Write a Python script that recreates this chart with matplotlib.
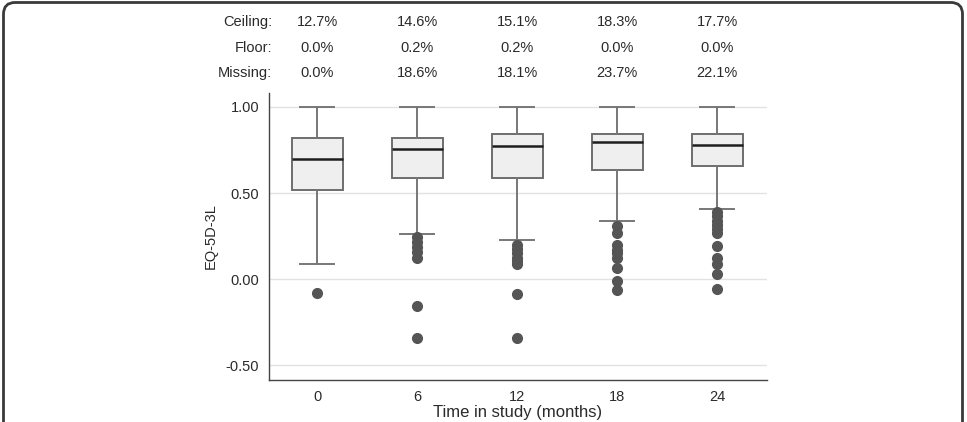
import matplotlib
matplotlib.use("Agg")
import matplotlib.pyplot as plt
from matplotlib.patches import FancyBboxPatch
from matplotlib.transforms import blended_transform_factory

plt.rcParams['font.family'] = ['Liberation Sans', 'DejaVu Sans']

# ---- data ----
categories = ["0", "6", "12", "18", "24"]
whislo = [0.087, 0.264, 0.225, 0.337, 0.409]
q1 = [0.517, 0.589, 0.589, 0.634, 0.659]
med = [0.698, 0.754, 0.771, 0.797, 0.779]
q3 = [0.822, 0.822, 0.843, 0.843, 0.843]
whishi = [1.00, 1.00, 1.00, 1.00, 1.00]
fliers = [
    [-0.083],
    [0.246, 0.217, 0.188, 0.155, 0.120, -0.155, -0.341],
    [0.200, 0.175, 0.150, 0.125, 0.105, 0.088, -0.089, -0.341],
    [0.308, 0.266, 0.198, 0.169, 0.150, 0.120, 0.062, -0.010, -0.066],
    [0.391, 0.366, 0.339, 0.314, 0.289, 0.266, 0.194, 0.124, 0.087, 0.029, -0.060],
]
ceiling = ["12.7%", "14.6%", "15.1%", "18.3%", "17.7%"]
floor_ = ["0.0%", "0.2%", "0.2%", "0.0%", "0.0%"]
missing = ["0.0%", "18.6%", "18.1%", "23.7%", "22.1%"]
yticks = [1.0, 0.5, 0.0, -0.5]

fig = plt.figure(figsize=(9.67, 4.22), dpi=100)
ax = fig.add_axes([0.2782, 0.0995, 0.515, 0.680])

stats = []
for i in range(len(categories)):
    stats.append(dict(whislo=whislo[i], q1=q1[i], med=med[i], q3=q3[i],
                      whishi=whishi[i], fliers=fliers[i], label=categories[i]))

pos = list(range(len(categories)))
ax.bxp(stats, positions=pos, widths=0.51, patch_artist=True,
       boxprops=dict(facecolor='#efefef', edgecolor='#6e6e6e', linewidth=1.4),
       whiskerprops=dict(color='#777777', linewidth=1.4),
       capprops=dict(color='#777777', linewidth=1.4),
       medianprops=dict(color='#1e1e1e', linewidth=1.8),
       flierprops=dict(marker='o', markerfacecolor='#555555', markeredgecolor='#555555',
                       markersize=7),
       capwidths=0.34, zorder=3)

ax.set_xlim(-0.48, 4.5)
ax.set_ylim(-0.587, 1.081)
ax.set_yticks(yticks)
ax.set_yticklabels([f"{v:.2f}" for v in yticks])
ax.set_xticks(pos)
ax.set_xticklabels(categories)
ax.tick_params(axis='both', length=0, labelsize=10.5, colors='#2a2a2a', pad=7)
ax.yaxis.grid(True, color='#e2e2e2', linewidth=1.0)
ax.set_axisbelow(True)
for s in ['top', 'right']:
    ax.spines[s].set_visible(False)
for s in ['left', 'bottom']:
    ax.spines[s].set_color('#444444')
    ax.spines[s].set_linewidth(1.0)

ax.set_ylabel("EQ-5D-3L", fontsize=10.5, color='#2a2a2a', labelpad=6)
ax.set_xlabel("Time in study (months)", fontsize=12, color='#2a2a2a', labelpad=1)

trans = blended_transform_factory(ax.transData, fig.transFigure)
rows = [("Ceiling:", ceiling, 0.947), ("Floor:", floor_, 0.886), ("Missing:", missing, 0.826)]
for lab, vals, yy in rows:
    fig.text(0.2815, yy, lab, ha='right', va='center', fontsize=10.5, color='#2a2a2a')
    for i, v in enumerate(vals):
        ax.text(pos[i], yy, v, transform=trans, ha='center', va='center',
                fontsize=10.5, color='#2a2a2a', clip_on=False)

frame = FancyBboxPatch((3.5 / 967, -0.2), (962.5 - 3.5) / 967, 1.2 - 2.5 / 422,
                       boxstyle="round,pad=0,rounding_size=0.012",
                       transform=fig.transFigure, facecolor='none',
                       edgecolor='#3a3a3a', linewidth=2.0, mutation_aspect=967 / 422)
fig.patches.append(frame)

fig.savefig("out.png", dpi=100)
